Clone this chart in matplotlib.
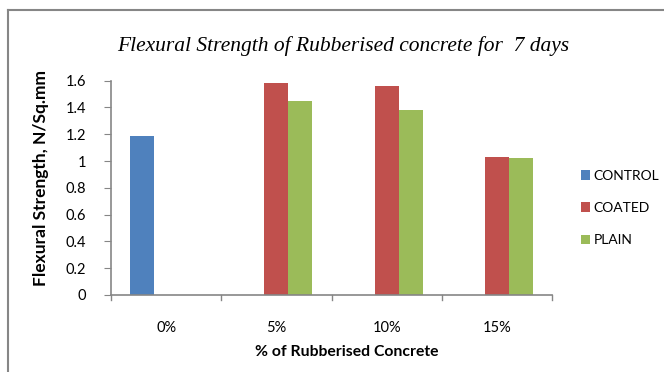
import matplotlib
matplotlib.use("Agg")
import matplotlib.pyplot as plt
from matplotlib.lines import Line2D
import numpy as np

categories = ["0%", "5%", "10%", "15%"]
control = [1.19, 0, 0, 0]
coated = [0, 1.58, 1.56, 1.03]
plain = [0, 1.45, 1.38, 1.02]
series = ["CONTROL", "COATED", "PLAIN"]
colors = ["#4f81bd", "#c0504d", "#9bbb59"]
yticks = [0, 0.2, 0.4, 0.6, 0.8, 1, 1.2, 1.4, 1.6]
ytick_labels = ["0", "0.2", "0.4", "0.6", "0.8", "1", "1.2", "1.4", "1.6"]

label_font = "Lato"
grey = "#868686"
W, H = 664, 372

fig = plt.figure(figsize=(6.64, 3.72), dpi=100)
ax = fig.add_axes([111 / W, 1 - 295 / H, 441 / W, 214.3 / H])

x = np.arange(len(categories))
w = 24 / 110
for i, (vals, name, c) in enumerate(zip([control, coated, plain], series, colors)):
    ax.bar(x + (i - 1) * w, vals, width=w, color=c, label=name, linewidth=0)

ax.set_xlim(-0.5, len(categories) - 0.5)
ax.set_ylim(0, 1.6)
ax.set_yticks(yticks)
ax.set_yticklabels(ytick_labels, fontfamily=label_font, fontsize=10.5)
ax.set_xticks(x)
ax.set_xticklabels(categories, fontfamily=label_font, fontsize=10.5)
ax.tick_params(axis="x", length=0, pad=19)
ax.tick_params(axis="y", length=5, color=grey, pad=13)
# category separators on the x axis
for b in np.arange(-0.5, len(categories), 1.0):
    ax.plot([b, b], [0, -0.035], color=grey, lw=1, clip_on=False)

for s in ["top", "right"]:
    ax.spines[s].set_visible(False)
for s in ["left", "bottom"]:
    ax.spines[s].set_color(grey)
    ax.spines[s].set_linewidth(1.2)

fig.text(347 / W, 1 - 352 / H, "% of Rubberised Concrete", fontfamily=label_font,
         fontweight="bold", fontsize=11.3, ha="center", va="center")
fig.text(41 / W, 1 - 178 / H, "Flexural Strength, N/Sq.mm", fontfamily=label_font,
         fontweight="bold", fontsize=12.5, rotation=90, ha="center", va="center")

fig.text(343 / W, 1 - 46 / H, "Flexural Strength of Rubberised concrete for  7 days",
         fontfamily="Liberation Serif", style="italic", fontsize=15.5,
         ha="center", va="center")

ax.legend(loc="center left", bbox_to_anchor=(568 / W, 1 - 208 / H),
          bbox_transform=fig.transFigure, frameon=False,
          prop={"family": label_font, "size": 10},
          handlelength=0.7, handleheight=0.7, handletextpad=0.25,
          labelspacing=1.46)

# outer chart frame
fig.add_artist(Line2D([8 / W, 8 / W], [0, 1 - 10 / H], color=grey, lw=1.5))
fig.add_artist(Line2D([8 / W, 1], [1 - 10 / H, 1 - 10 / H], color=grey, lw=1.5))

fig.savefig("out.png", dpi=100)
